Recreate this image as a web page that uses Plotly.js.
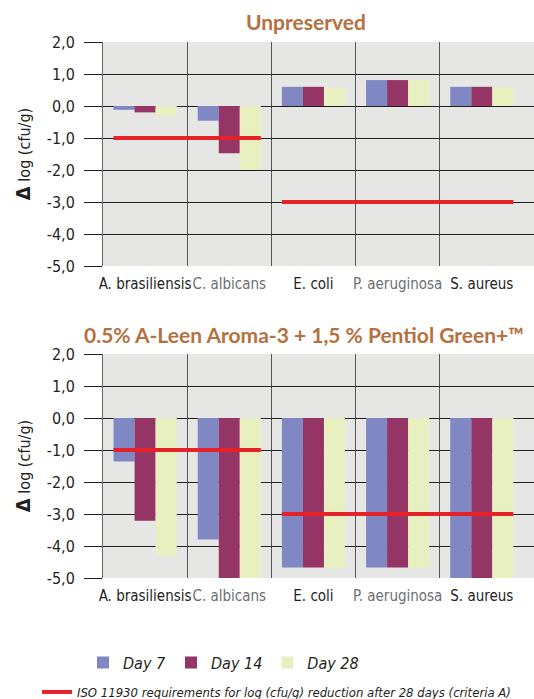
<!DOCTYPE html>
<html><head><meta charset="utf-8">
<script src="https://cdn.plot.ly/plotly-3.0.1.min.js"></script>
<style>html,body{margin:0;padding:0;background:#fff}#chart{width:534px;height:699px}</style>
</head><body><div id="chart"></div>
<script>
const categories = ['A. brasiliensis','C. albicans','E. coli','P. aeruginosa','S. aureus'];
const categoryLabelColors = ['#231f20','#6d6e70','#231f20','#6d6e70','#231f20'];
const seriesNames = ['Day 7','Day 14','Day 28'];
const unpreservedDay7  = [-0.12, -0.46, 0.60, 0.81, 0.60];
const unpreservedDay14 = [-0.20, -1.48, 0.60, 0.81, 0.60];
const unpreservedDay28 = [-0.30, -2.00, 0.58, 0.81, 0.59];
const preservedDay7  = [-1.36, -3.80, -4.67, -4.67, -5.05];
const preservedDay14 = [-3.21, -5.00, -4.67, -4.67, -5.05];
const preservedDay28 = [-4.30, -5.00, -4.67, -4.67, -5.05];
// ISO 11930 criteria A: -1 log for fungi/yeast, -3 log for bacteria
const isoFromCategory = [0, 2];
const isoToCategory   = [1, 4];
const isoValues       = [-1, -3];
const yTickVals = [2, 1, 0, -1, -2, -3, -4, -5];
const yTickText = ['2,0','1,0','0,0','-1,0','-2,0','-3,0','-4,0','-5,0'];
const chartTitles = ['Unpreserved', '0.5% A-Leen Aroma-3 + 1,5 % Pentiol Green+™'];
const isoLabel = 'ISO 11930 requirements for log (cfu/g) reduction after 28 days (criteria A)';

const W = 534, H = 699;
const colors = ['#8088c4', '#943566', '#e9f0bf'];
const narrow = '"Liberation Sans Narrow", "DejaVu Sans Condensed", "Arial Narrow", sans-serif';
const titleColor = '#b6703f';
const bargap = 0.25;
const half = (1 - bargap) / 2;
const xPos = categories.map((_, i) => i);
const boundaries = categories.map((_, i) => i - 0.5);
const py = p => 1 - p / H;

const panels = [
  {data: [unpreservedDay7, unpreservedDay14, unpreservedDay28], xa: 'x', ya: 'y', legend: true},
  {data: [preservedDay7, preservedDay14, preservedDay28], xa: 'x2', ya: 'y2', legend: false}
];
const traces = [];
panels.forEach(p => {
  p.data.forEach((vals, s) => {
    traces.push({type: 'bar', x: xPos, y: vals, name: seriesNames[s], xaxis: p.xa, yaxis: p.ya,
      marker: {color: colors[s], line: {width: 0}}, showlegend: p.legend, legendgroup: seriesNames[s],
      cliponaxis: false, hoverinfo: 'y'});
  });
});
panels.forEach(p => {
  const xs = [], ys = [];
  isoValues.forEach((v, i) => {
    xs.push(isoFromCategory[i] - half, isoToCategory[i] + half, null);
    ys.push(v, v, null);
  });
  traces.push({type: 'scatter', mode: 'lines', x: xs, y: ys, xaxis: p.xa, yaxis: p.ya,
    line: {color: '#e62129', width: 4}, name: isoLabel, showlegend: p.legend, legend: 'legend2',
    hoverinfo: 'skip'});
});

function xAxis(anchor) {
  return {anchor: anchor, domain: [103 / W, 1], range: [-0.5, 4.62], showgrid: false, zeroline: false,
    showline: false, ticks: '', tickvals: xPos, tickangle: 0,
    ticktext: categories.map((c, i) => `<span style="color:${categoryLabelColors[i]}">${c}</span>`),
    tickfont: {family: narrow, size: 15, color: '#231f20'}, ticklabelstandoff: 7,
    minor: {tickmode: 'array', tickvals: boundaries, showgrid: true, gridcolor: '#555', gridwidth: 1, ticks: ''},
    automargin: false, fixedrange: true};
}
function yAxis(anchor, top, bottom) {
  return {anchor: anchor, domain: [py(bottom), py(top)], range: [-5, 2], tickvals: yTickVals, ticktext: yTickText,
    showgrid: true, gridcolor: '#1e1e1e', gridwidth: 1, zeroline: false, showline: true, linecolor: '#666',
    ticks: 'outside', ticklen: 18, tickcolor: '#1e1e1e', tickwidth: 1, ticklabelstandoff: 6,
    tickfont: {family: narrow, size: 16, color: '#231f20'},
    title: {text: '<span style="font-size:20px"><b>Δ</b></span> log (cfu/g)', font: {family: narrow, size: 16, color: '#231f20'}, standoff: 12},
    automargin: false, fixedrange: true};
}

const layout = {
  width: W, height: H, margin: {l: 0, r: 0, t: 0, b: 0, autoexpand: false}, paper_bgcolor: '#fff', plot_bgcolor: '#e6e7e5',
  barmode: 'group', bargap: bargap, bargroupgap: 0,
  xaxis: xAxis('y'), yaxis: yAxis('x', 42, 266),
  xaxis2: xAxis('y2'), yaxis2: yAxis('x2', 354, 578),
  showlegend: true,
  legend: {orientation: 'h', x: 83 / W, xanchor: 'left', y: py(662.5), yanchor: 'middle', bgcolor: 'rgba(0,0,0,0)',
    font: {family: narrow, size: 16, style: 'italic', color: '#231f20'}, traceorder: 'normal'},
  legend2: {orientation: 'h', x: 37 / W, xanchor: 'left', y: py(692), yanchor: 'middle', bgcolor: 'rgba(0,0,0,0)',
    font: {family: narrow, size: 13, style: 'italic', color: '#231f20'}},
  annotations: [
    {text: '<b>' + chartTitles[0] + '</b>', xref: 'paper', yref: 'paper', x: 306 / W, y: py(21), xanchor: 'center', yanchor: 'middle',
      showarrow: false, font: {family: 'Lato, "Open Sans", sans-serif', size: 21, color: titleColor}},
    {text: '<b>' + chartTitles[1] + '</b>', xref: 'paper', yref: 'paper', x: 304 / W, y: py(334), xanchor: 'center', yanchor: 'middle',
      showarrow: false, font: {family: 'Lato, "Open Sans", sans-serif', size: 21, color: titleColor}}
  ]
};
Plotly.newPlot('chart', traces, layout, {displayModeBar: false, staticPlot: true});
</script></body></html>
